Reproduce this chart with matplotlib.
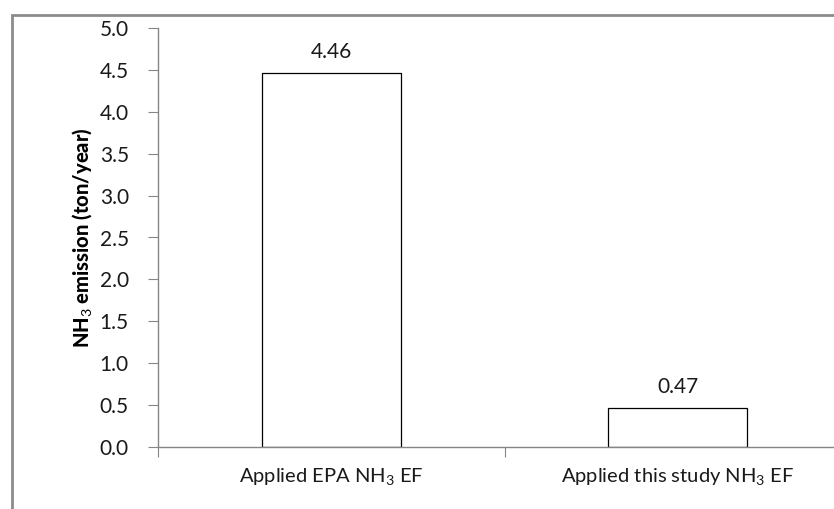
import matplotlib.pyplot as plt
from matplotlib.patches import Rectangle

categories = ['Applied EPA NH$_3$ EF', 'Applied this study NH$_3$ EF']
emissions = [4.46, 0.47]
value_labels = ['4.46', '0.47']
y_ticks = [0.0, 0.5, 1.0, 1.5, 2.0, 2.5, 3.0, 3.5, 4.0, 4.5, 5.0]

plt.rcParams['font.family'] = ['Lato', 'DejaVu Sans']
plt.rcParams['mathtext.fontset'] = 'custom'
plt.rcParams['mathtext.rm'] = 'Lato'
plt.rcParams['mathtext.bf'] = 'Lato:black'

W, H = 834, 509
fig = plt.figure(figsize=(W / 100, H / 100), dpi=100)

# outer chart frame (runs off the right and bottom edges)
fig.patches.append(Rectangle((12 / W, -0.1), 1.2, 1 - 15 / H + 0.1, transform=fig.transFigure,
                             fill=False, edgecolor='#8c8c8c', linewidth=2))

# plot area: x from 158 to ~851 px, y from 447 (0.0) to 28 (5.0)
ax = fig.add_axes([158 / W, 1 - 447 / H, 693 / W, 419 / H])
x = list(range(len(categories)))
ax.bar(x, emissions, width=0.4, color='white', edgecolor='black', linewidth=0.9)
for xi, v, lab in zip(x, emissions, value_labels):
    ax.annotate(lab, (xi, v), xytext=(0, 8), textcoords='offset points',
                ha='center', va='bottom', fontsize=15, color='#1a1a1a')

ax.set_xlim(-0.5, 1.5)
ax.set_ylim(0, 5.0)
ax.set_yticks(y_ticks)
ax.set_yticklabels([f'{t:.1f}' for t in y_ticks], fontsize=15, color='#1a1a1a')
ax.set_xticks([-0.5, 0.5, 1.5])
ax.set_xticklabels([])
ax.set_xticks(x, minor=True)
ax.set_xticklabels(categories, minor=True, fontsize=14.5, color='#1a1a1a')
ax.tick_params(axis='x', which='major', length=7, color='#868686')
ax.tick_params(axis='x', which='minor', length=0, pad=14)
ax.tick_params(axis='y', length=7, color='#868686', pad=14)

for s in ['top', 'right']:
    ax.spines[s].set_visible(False)
for s in ['left', 'bottom']:
    ax.spines[s].set_color('#868686')
    ax.spines[s].set_linewidth(1)

ax.set_ylabel('NH$_3$ emission (ton/year)', fontsize=14.5, fontweight=900)
ax.yaxis.set_label_coords((82 - 158) / 693, 0.5)
ax.yaxis.label.set_verticalalignment('center')

fig.savefig('out.png', dpi=100)
